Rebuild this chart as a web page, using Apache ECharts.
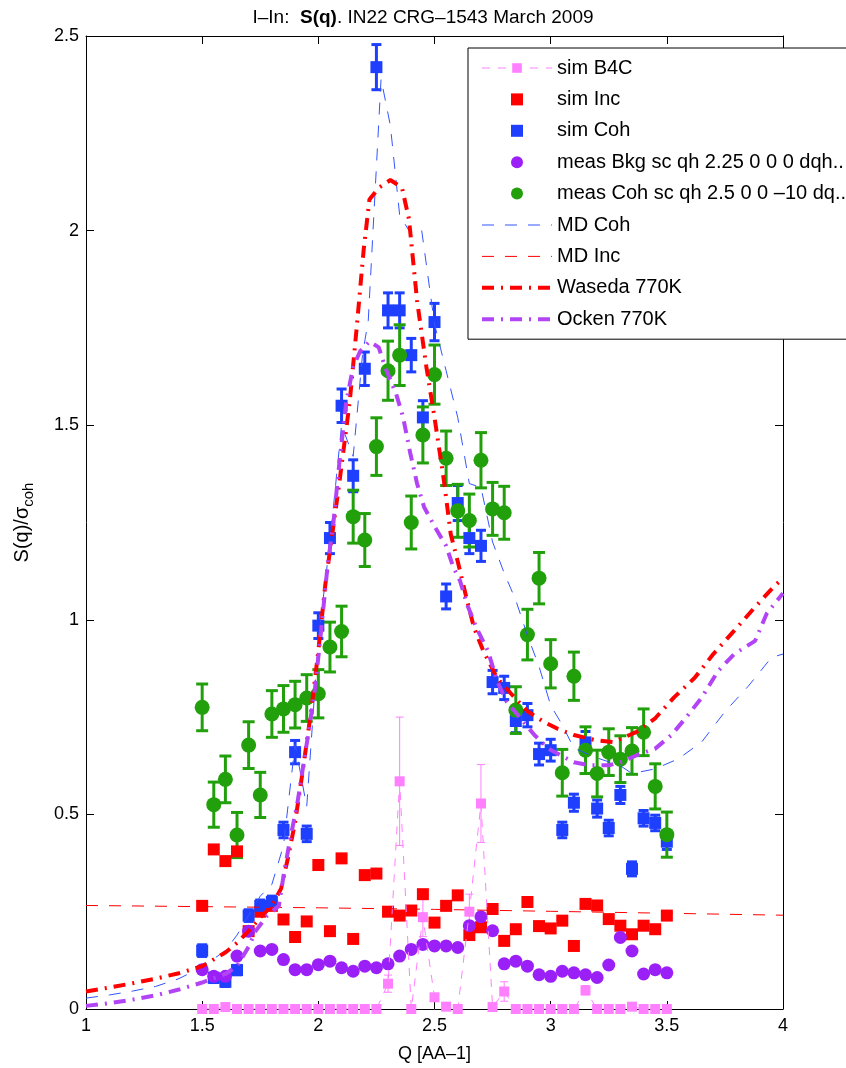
<!DOCTYPE html>
<html>
<head>
<meta charset="utf-8">
<title>I-In S(q)</title>
<script src="https://cdn.jsdelivr.net/npm/echarts@6/dist/echarts.min.js"></script>
<style>
    html, body { margin: 0; padding: 0; background: #fff; }
    #sq_chart { width: 846px; height: 1068px; }
</style>
</head>
<body>
<div id="sq_chart"></div>
<script>
// Q values of the simulated and measured points
var qPts = [1.5, 1.55, 1.6, 1.65, 1.7, 1.75, 1.8, 1.85, 1.9, 1.95, 2.0, 2.05, 2.1, 2.15, 2.2, 2.25, 2.3, 2.35, 2.4, 2.45,
    2.5, 2.55, 2.6, 2.65, 2.7, 2.75, 2.8, 2.85, 2.9, 2.95, 3.0, 3.05, 3.1, 3.15, 3.2, 3.25, 3.3, 3.35, 3.4, 3.45, 3.5];

var simB4C = [0, 0, 0.005, 0, 0, 0, 0, 0, 0, 0, 0, 0, 0, 0, 0, 0, 0.065, 0.585, 0, 0.236,
    0.03, 0.006, 0, 0.25, 0.528, 0.005, 0.045, 0, 0, 0, 0, 0, 0, 0.048, 0, 0, 0, 0.006, 0, 0, 0];
var simB4CErr = [0, 0, 0, 0, 0, 0, 0, 0, 0, 0, 0, 0, 0, 0, 0, 0, 0.022, 0.165, 0, 0.05,
    0.01, 0, 0, 0.045, 0.1, 0, 0.025, 0, 0, 0, 0, 0, 0, 0.012, 0, 0, 0, 0, 0, 0, 0];

var simInc = [0.265, 0.41, 0.38, 0.405, 0.2, 0.25, 0.265, 0.23, 0.185, 0.225, 0.37, 0.2, 0.387, 0.18, 0.344, 0.348, 0.25, 0.24, 0.253, 0.295,
    0.222, 0.265, 0.292, 0.19, 0.21, 0.257, 0.175, 0.205, 0.275, 0.213, 0.207, 0.227, 0.162, 0.27, 0.266, 0.231, 0.214, 0.192, 0.214, 0.205, 0.24];

var simCoh = [0.15, 0.08, 0.07, 0.1, 0.24, 0.265, 0.275, 0.46, 0.66, 0.45, 0.985, 1.21, 1.55, 1.37, 1.645, 2.42, 1.795, 1.795, 1.68, 1.52,
    1.765, 1.06, 1.3, 1.21, 1.19, 0.84, 0.825, 0.74, 0.755, 0.655, 0.665, 0.46, 0.53, 0.685, 0.515, 0.465, 0.55, 0.36, 0.49, 0.478, 0.43];
var simCohErr = [0.015, 0.012, 0.012, 0.012, 0.015, 0.015, 0.015, 0.02, 0.03, 0.02, 0.033, 0.04, 0.043, 0.041, 0.043, 0.058, 0.045, 0.045, 0.043, 0.043,
    0.048, 0.032, 0.045, 0.04, 0.04, 0.03, 0.03, 0.03, 0.03, 0.028, 0.028, 0.02, 0.022, 0.028, 0.022, 0.02, 0.022, 0.018, 0.02, 0.02, 0.02];

var measBkg = [0.101, 0.084, 0.084, 0.136, 0.2, 0.149, 0.153, 0.127, 0.101, 0.101, 0.114, 0.123, 0.106, 0.097, 0.11, 0.106, 0.116, 0.136, 0.153, 0.166,
    0.162, 0.162, 0.158, 0.214, 0.237, 0.201, 0.116, 0.123, 0.11, 0.088, 0.084, 0.097, 0.093, 0.088, 0.081, 0.113, 0.184, 0.149, 0.09, 0.101, 0.093];

var measCoh = [0.775, 0.525, 0.59, 0.447, 0.678, 0.55, 0.758, 0.771, 0.782, 0.799, 0.81, 0.93, 0.97, 1.265, 1.205, 1.445, 1.64, 1.68, 1.25, 1.475,
    1.63, 1.415, 1.28, 1.255, 1.41, 1.285, 1.275, 0.768, 0.962, 1.107, 0.887, 0.607, 0.855, 0.665, 0.605, 0.66, 0.642, 0.663, 0.711, 0.572, 0.448];
var measCohErr = [0.06, 0.058, 0.06, 0.058, 0.06, 0.058, 0.06, 0.06, 0.06, 0.06, 0.062, 0.064, 0.065, 0.068, 0.068, 0.074, 0.076, 0.078, 0.068, 0.072,
    0.076, 0.07, 0.068, 0.068, 0.071, 0.068, 0.068, 0.06, 0.065, 0.066, 0.062, 0.06, 0.062, 0.06, 0.06, 0.06, 0.06, 0.06, 0.06, 0.058, 0.058];

// MD and model curves
var mdCohQ = [1.0, 1.1, 1.2, 1.3, 1.4, 1.5, 1.6, 1.65, 1.7, 1.75, 1.8, 1.85, 1.9, 1.95, 2.0, 2.05, 2.1, 2.15, 2.19, 2.215,
    2.27, 2.31, 2.35, 2.4, 2.445, 2.5, 2.55, 2.6, 2.65, 2.7, 2.75, 2.8, 2.85, 2.9, 2.95, 3.0, 3.05, 3.1, 3.2, 3.3,
    3.35, 3.45, 3.55, 3.65, 3.75, 3.85, 3.95, 4.0];
var mdCoh = [0.028, 0.036, 0.046, 0.058, 0.078, 0.108, 0.15, 0.19, 0.24, 0.29, 0.32, 0.42, 0.68, 0.52, 0.95, 1.2, 1.5, 1.42, 1.68, 1.77,
    2.39, 2.27, 2.04, 1.99, 2.0, 1.76, 1.64, 1.52, 1.35, 1.34, 1.2, 1.12, 1.05, 0.96, 0.88, 0.78, 0.73, 0.67, 0.645, 0.625,
    0.605, 0.617, 0.643, 0.686, 0.764, 0.829, 0.903, 0.912];

var mdIncQ = [1.0, 1.5, 2.0, 2.5, 3.0, 3.5, 4.0];
var mdInc = [0.266, 0.263, 0.26, 0.256, 0.251, 0.246, 0.241];

var wasedaQ = [1.0, 1.1, 1.2, 1.3, 1.4, 1.5, 1.6, 1.65, 1.7, 1.75, 1.8, 1.84, 1.87, 1.9, 1.93, 1.97, 2.0, 2.03, 2.06, 2.09,
    2.135, 2.165, 2.195, 2.22, 2.26, 2.31, 2.36, 2.39, 2.425, 2.465, 2.5, 2.54, 2.57, 2.6, 2.64, 2.67, 2.71, 2.77, 2.83, 2.9,
    2.97, 3.03, 3.1, 3.19, 3.27, 3.37, 3.45, 3.53, 3.62, 3.7, 3.79, 3.88, 3.96, 4.0];
var waseda = [0.045, 0.055, 0.066, 0.078, 0.092, 0.11, 0.145, 0.17, 0.2, 0.235, 0.265, 0.31, 0.39, 0.48, 0.6, 0.77, 0.92, 1.09, 1.22, 1.35,
    1.56, 1.75, 1.95, 2.08, 2.11, 2.13, 2.11, 2.03, 1.82, 1.65, 1.52, 1.36, 1.22, 1.15, 1.05, 0.98, 0.92, 0.85, 0.81, 0.765,
    0.738, 0.72, 0.704, 0.691, 0.686, 0.712, 0.747, 0.8, 0.851, 0.912, 0.972, 1.033, 1.085, 1.107];

var ockenQ = [1.0, 1.1, 1.2, 1.3, 1.4, 1.5, 1.6, 1.65, 1.7, 1.73, 1.78, 1.83, 1.855, 1.88, 1.91, 1.955, 1.985, 2.01, 2.04, 2.065,
    2.09, 2.12, 2.15, 2.18, 2.22, 2.26, 2.29, 2.335, 2.365, 2.395, 2.425, 2.455, 2.5, 2.55, 2.58, 2.61, 2.64, 2.68, 2.73, 2.77,
    2.81, 2.87, 2.93, 2.99, 3.1, 3.17, 3.25, 3.3, 3.37, 3.45, 3.52, 3.58, 3.65, 3.72, 3.79, 3.88, 3.93, 4.0];
var ocken = [0.008, 0.015, 0.024, 0.035, 0.05, 0.068, 0.09, 0.11, 0.16, 0.2, 0.24, 0.265, 0.36, 0.44, 0.53, 0.7, 0.82, 0.96, 1.14, 1.25,
    1.4, 1.56, 1.65, 1.69, 1.715, 1.7, 1.645, 1.58, 1.52, 1.43, 1.35, 1.29, 1.24, 1.19, 1.137, 1.1, 1.04, 0.98, 0.92, 0.842,
    0.79, 0.747, 0.704, 0.669, 0.634, 0.626, 0.626, 0.634, 0.652, 0.669, 0.704, 0.747, 0.8, 0.868, 0.912, 0.946, 1.016, 1.068];

var names = ['sim B4C', 'sim Inc', 'sim Coh', 'meas Bkg sc qh 2.25 0 0 0 dqh..', 'meas Coh sc qh 2.5 0 0 \u201310 dq..',
    'MD Coh', 'MD Inc', 'Waseda 770K', 'Ocken 770K'];

var FONT = '"Liberation Sans", Arial, Helvetica, sans-serif';
var SQUARE = 'path://M0,0H10V10H0Z';
var DASH = [12, 11], DASHDOT = [12, 7, 2, 7];

function pairs(xs, ys) {
    var out = [];
    for (var i = 0; i < xs.length; i++) {
        out.push([xs[i], ys[i]]);
    }
    return out;
}

// vertical error bars with caps, drawn through the cartesian coords
function errBars(ys, errs, color, lw, cap) {
    var d = [];
    for (var i = 0; i < qPts.length; i++) {
        if (errs[i] > 0) d.push([qPts[i], ys[i], errs[i]]);
    }
    return {
        type: 'custom', silent: true, data: d,
        encode: { x: 0, y: 1 },
        renderItem: function (params, api) {
            var x = api.value(0), y = api.value(1), e = api.value(2);
            var hi = api.coord([x, y + e]), lo = api.coord([x, y - e]);
            return {
                type: 'group', children: [
                    { type: 'line', shape: { x1: hi[0], y1: hi[1], x2: lo[0], y2: lo[1] }, style: { stroke: color, lineWidth: lw } },
                    { type: 'line', shape: { x1: hi[0] - cap, y1: hi[1], x2: hi[0] + cap, y2: hi[1] }, style: { stroke: color, lineWidth: lw } },
                    { type: 'line', shape: { x1: lo[0] - cap, y1: lo[1], x2: lo[0] + cap, y2: lo[1] }, style: { stroke: color, lineWidth: lw } }
                ]
            };
        }
    };
}

var pink = '#FF80FF', red = '#FF0000', blue = '#1F3FFF', purple = '#9B20F8', green = '#22A00C', ockenCol = '#B344F5', mdBlue = '#3355FF';

var axisCommon = {
    type: 'value',
    axisLine: { onZero: false, lineStyle: { color: '#000', width: 1 } },
    axisTick: { inside: true, length: 8, lineStyle: { color: '#000' } },
    splitLine: { show: false }
};

var myChart = echarts.init(document.getElementById('sq_chart'));

var option = {
    animation: false,
    backgroundColor: '#fff',
    title: {
        left: 'center', top: 3,
        text: '{n|I\u2013In:  }{b|S(q)}{n|. IN22 CRG\u20131543 March 2009}',
        textStyle: {
            fontWeight: 'normal',
            rich: {
                n: { fontSize: 19, color: '#000', fontWeight: 'normal', fontFamily: FONT },
                b: { fontSize: 19, color: '#000', fontWeight: 'bold', fontFamily: FONT }
            }
        }
    },
    grid: { left: 86, right: 63, top: 36, bottom: 57, containLabel: false },
    legend: {
        orient: 'vertical', left: 468, top: 48,
        data: [
            { name: names[0], lineStyle: { width: 1, type: [8, 8] } },
            { name: names[1], icon: SQUARE },
            { name: names[2], icon: SQUARE },
            { name: names[3], icon: 'circle' },
            { name: names[4], icon: 'circle' },
            { name: names[5], itemStyle: { opacity: 0 }, lineStyle: { width: 1, type: DASH } },
            { name: names[6], itemStyle: { opacity: 0 }, lineStyle: { width: 1, type: DASH } },
            { name: names[7], itemStyle: { opacity: 0 }, lineStyle: { width: 4, type: DASHDOT } },
            { name: names[8], itemStyle: { opacity: 0 }, lineStyle: { width: 4, type: DASHDOT } }
        ],
        itemWidth: 70, itemHeight: 12, itemGap: 11.4,
        padding: [10, 12, 10, 12],
        borderColor: '#000', borderWidth: 1, backgroundColor: '#fff',
        textStyle: { fontSize: 20, color: '#000', fontFamily: FONT },
        selectedMode: false
    },
    xAxis: [
        Object.assign({}, axisCommon, {
            min: 1, max: 4, interval: 0.5, position: 'bottom',
            name: 'Q [AA\u20131]', nameLocation: 'middle', nameGap: 36,
            nameTextStyle: { fontSize: 18, color: '#000', fontFamily: FONT },
            axisLabel: { fontSize: 18, color: '#000', margin: 8, fontFamily: FONT }
        }),
        Object.assign({}, axisCommon, {
            min: 1, max: 4, interval: 0.5, position: 'top', axisLabel: { show: false }
        })
    ],
    yAxis: [
        Object.assign({}, axisCommon, {
            min: 0, max: 2.5, interval: 0.5, position: 'left',
            name: '{a|S(q)/\u03c3}{s|coh}', nameLocation: 'middle', nameGap: 50, nameRotate: 90,
            nameTextStyle: {
                rich: {
                    a: { fontSize: 20, lineHeight: 28, color: '#000', fontFamily: FONT },
                    s: { fontSize: 15, lineHeight: 15, verticalAlign: 'bottom', color: '#000', fontFamily: FONT }
                }
            },
            axisLabel: { fontSize: 18, color: '#000', margin: 7, fontFamily: FONT }
        }),
        Object.assign({}, axisCommon, {
            min: 0, max: 2.5, interval: 0.5, position: 'right', axisLabel: { show: false }
        })
    ],
    series: [
        errBars(simB4C, simB4CErr, pink, 1, 4),
        {
            name: names[0], type: 'line', data: pairs(qPts, simB4C),
            symbol: 'rect', symbolSize: 10, itemStyle: { color: pink, opacity: 1 },
            lineStyle: { color: pink, width: 1, type: [8, 8] }
        },
        {
            name: names[1], type: 'scatter', data: pairs(qPts, simInc),
            symbol: 'rect', symbolSize: 12, itemStyle: { color: red, opacity: 1 }
        },
        errBars(simCoh, simCohErr, blue, 3, 5),
        {
            name: names[2], type: 'scatter', data: pairs(qPts, simCoh),
            symbol: 'rect', symbolSize: 12, itemStyle: { color: blue, opacity: 1 }
        },
        {
            name: names[3], type: 'scatter', data: pairs(qPts, measBkg),
            symbol: 'circle', symbolSize: 13, itemStyle: { color: purple, opacity: 1 }
        },
        errBars(measCoh, measCohErr, green, 3, 6),
        {
            name: names[4], type: 'scatter', data: pairs(qPts, measCoh),
            symbol: 'circle', symbolSize: 15, itemStyle: { color: green, opacity: 1 }
        },
        {
            name: names[5], type: 'line', data: pairs(mdCohQ, mdCoh), symbol: 'none',
            itemStyle: { color: mdBlue },
            lineStyle: { color: mdBlue, width: 1, type: DASH }
        },
        {
            name: names[6], type: 'line', data: pairs(mdIncQ, mdInc), symbol: 'none',
            itemStyle: { color: red },
            lineStyle: { color: red, width: 1, type: DASH }
        },
        {
            name: names[7], type: 'line', data: pairs(wasedaQ, waseda), symbol: 'none',
            itemStyle: { color: red },
            lineStyle: { color: red, width: 4, type: DASHDOT }
        },
        {
            name: names[8], type: 'line', data: pairs(ockenQ, ocken), symbol: 'none',
            itemStyle: { color: ockenCol },
            lineStyle: { color: ockenCol, width: 4, type: DASHDOT }
        }
    ]
};

myChart.setOption(option);
</script>
</body>
</html>
